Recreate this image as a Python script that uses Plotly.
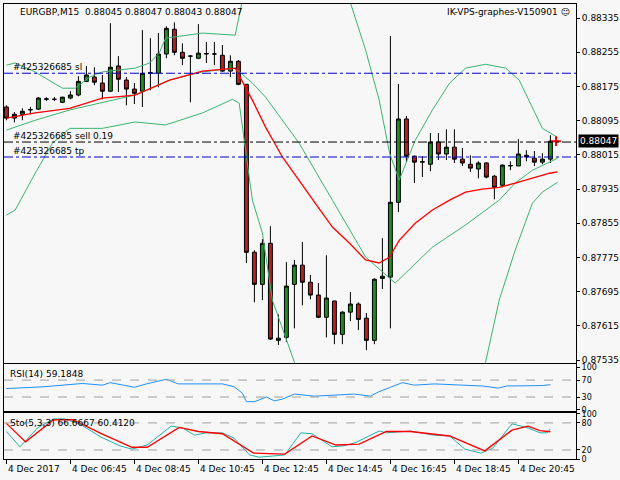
import plotly.graph_objects as go
from plotly.subplots import make_subplots

S = 1e5  # prices stored in 1e-5 units
opens  = [88127,88101,88110,88120,88122,88145,88145,88138,88148,88155,88187,88197,88183,88164,88223,88190,88169,88164,88206,88206,88251,88309,88255,88246,88241,88251,88251,88248,88211,88234,
          88180,87787,87712,87808,87581,87588,87712,87757,87717,87687,87635,87673,87595,87647,87666,87633,87581,87726,87729,87904,88099,88012,87998,87993,88045,88017,88033,88005,87993,87982,
          87996,87965,87944,87989,87989,88014,88007,87998,88005]
highs  = [88131,88115,88124,88127,88150,88150,88150,88151,88164,88199,88223,88220,88202,88323,88246,88197,88183,88307,88288,88300,88316,88325,88276,88248,88321,88279,88279,88272,88248,88237,
          88181,87792,87818,87848,87642,87764,87769,87811,87734,87715,87780,87674,87649,87694,87670,87645,87726,87820,88293,88181,88106,88013,88012,88066,88066,88075,88075,88031,88014,88000,
          87998,87968,87993,88000,88052,88026,88024,88019,88061]
lows   = [88096,88091,88096,88110,88120,88141,88141,88136,88145,88152,88185,88178,88145,88162,88162,88131,88134,88127,88166,88173,88241,88248,88225,88138,88239,88230,88225,88209,88197,88178,
          87762,87670,87675,87582,87570,87577,87609,87663,87677,87633,87588,87572,87572,87626,87605,87558,87572,87701,87609,87881,87998,87949,87963,87977,88003,88003,87996,87989,87975,87960,
          87960,87911,87939,87979,87989,88000,87989,87993,87996]
closes = [88101,88110,88117,88121,88148,88146,88145,88150,88155,88187,88202,88185,88164,88220,88192,88169,88159,88206,88207,88251,88311,88255,88241,88246,88253,88252,88251,88211,88234,88180,
          87787,87712,87808,87584,87586,87708,87757,87717,87687,87635,87680,87595,87647,87666,87630,87581,87724,87731,87904,88099,88012,87998,87999,88045,88017,88033,88005,87996,87984,87996,
          87963,87939,87991,87990,88017,88010,87998,88005,88047]

ma_x = [0,3.6,7.9,12,16.1,20.4,24.5,28.6,30.75,32.4,34.5,36.6,38.6,40.75,42.9,44.9,46.6,47.9,49.1,51.1,53.25,55.4,57.4,59.5,61.6,63.6,65.75,67.9,68.9]
ma_y = [88101,88113,88124,88148,88155,88190,88211,88218,88143,88080,88010,87956,87902,87846,87808,87769,87762,87776,87815,87855,87886,87909,87928,87935,87939,87949,87960,87972,87975]

bbm_x = [0,3.6,7.9,12,16.1,20.4,24.5,28.6,30.75,32.4,36.6,40.75,44.9,48.6,53.25,57.4,61.6,63.6,65.75,68.9]
bbm_y = [88073,88096,88120,88138,88155,88190,88209,88218,88183,88150,88042,87909,87776,87715,87799,87851,87909,87949,87979,88007]

bbu_x = [0,1.1,3.6,7,8.6,10.4,12,16.1,17.9,19.1,19.9,22.4,24.5,28.6,29.5,35.75,42.9,44.9,46.6,47.9,49.1,51.1,53.25,55.4,57.4,59.9,62.4,64.1,65.75,67,68.9]
bbu_y = [88225,88230,88209,88171,88171,88197,88209,88218,88230,88253,88288,88295,88300,88295,88377,88564,88377,88260,88143,88019,87956,88049,88120,88183,88218,88227,88218,88190,88127,88077,88056]

bbl_x = [0,1.1,3.6,5.75,7.9,12,16.1,19.9,24.5,28.25,29.1,29.9,30.75,32,33.25,36,42,52,59.9,61.6,63.6,65.75,67,68.9]
bbl_y = [87874,87886,87972,88042,88077,88077,88092,88085,88113,88145,88136,88026,87909,87832,87675,87530,87347,87324,87530,87675,87792,87902,87928,87951]

rsi_x = [0,4.5,9.5,12,13,16,17.5,20,21.5,27,28.5,29.5,30,31,32.5,33.5,34.5,36,38.5,43.5,45.5,46.5,48,49.5,51,53.5,59.5,61.5,62.5,67,68]
rsi_y = [50,54,62,58,64,53,61,72,61,61,54,39,19,19,30,21,25,37,32,37,32,42,53,64,58,61,56,51,56,57,59.18]

stk_x = [0,1.7,3.9,5.9,7.3,9.3,11.8,14.2,15.7,17.6,20.6,22,23.5,25,27,28.4,30.4,31.6,34.8,36.8,38.2,40.7,42.1,43.6,46.6,47.5,50.5,53.4,55.4,57.3,59.3,60.8,63.2,65.2,66.7,67.6,68]
stk_y = [61,27,69,89,89,76,49,29,22,31,73,69,53,58,58,47,9,4,9,58,56,27,29,36,62,58,62,53,51,22,13,24,78,69,58,58,66.67]
std_x = [0,2.4,5.9,8.3,11.8,15.7,17.6,21.6,24,27,30.9,34.8,38.2,41.2,44.1,47.5,50.5,55.4,59.8,63.2,65.2,66.7,68]
std_y = [79,38,87,87,57,26,26,70,61,56,13,11,51,31,33,61,61,51,18,64,73,63,60.41]

price_ticks = [0.88335,0.88255,0.88175,0.88095,0.88015,0.87935,0.87855,0.87775,0.87695,0.87615,0.87535]
time_idx = [0,8,16,24,32,40,48,56,64]
time_lbl = ["4 Dec 2017","4 Dec 06:45","4 Dec 08:45","4 Dec 10:45","4 Dec 12:45","4 Dec 14:45","4 Dec 16:45","4 Dec 18:45","4 Dec 20:45"]
levels = [("#425326685 sl", 0.88206, "#0000CD"), ("#425326685 sell 0.19", 0.88045, "#000000"), ("#425326685 tp", 0.88010, "#0000CD")]
last_price = 0.88047

idx = list(range(len(opens)))
sc = lambda a: [v / S for v in a]

fig = make_subplots(rows=3, cols=1, shared_xaxes=True)
fig.add_trace(go.Candlestick(x=idx, open=sc(opens), high=sc(highs), low=sc(lows), close=sc(closes),
    increasing=dict(line=dict(color="black", width=1), fillcolor="#1E8C1E"),
    decreasing=dict(line=dict(color="black", width=1), fillcolor="#B22222"),
    whiskerwidth=0, showlegend=False, hoverinfo="skip"), row=1, col=1)
green = "#3CB371"
for xs, ys in [(bbu_x, bbu_y), (bbm_x, bbm_y), (bbl_x, bbl_y)]:
    fig.add_trace(go.Scatter(x=xs, y=sc(ys), mode="lines", line=dict(color=green, width=1), showlegend=False), row=1, col=1)
fig.add_trace(go.Scatter(x=ma_x, y=sc(ma_y), mode="lines", line=dict(color="red", width=1.3), showlegend=False), row=1, col=1)
fig.add_trace(go.Scatter(x=[68.7], y=[last_price], mode="markers", marker=dict(symbol="cross-thin", color="red", size=7, line=dict(color="red", width=2)), showlegend=False), row=1, col=1)

fig.add_trace(go.Scatter(x=rsi_x, y=rsi_y, mode="lines", line=dict(color="#1E90FF", width=1), showlegend=False), row=2, col=1)
fig.add_trace(go.Scatter(x=stk_x, y=stk_y, mode="lines", line=dict(color="#20B2AA", width=1), showlegend=False), row=3, col=1)
fig.add_trace(go.Scatter(x=std_x, y=std_y, mode="lines", line=dict(color="red", width=1.3), showlegend=False), row=3, col=1)

for name, lv, col in levels:
    fig.add_hline(y=lv, line=dict(color=col, width=1, dash="dashdot"), row=1, col=1)
    fig.add_annotation(x=0.6, y=lv, xref="x", yref="y", text=name, showarrow=False, xanchor="left", yanchor="bottom",
                       font=dict(size=9, color="black"), yshift=-1)
for v, r in [(70, 2), (30, 2), (80, 3), (20, 3)]:
    fig.add_hline(y=v, line=dict(color="#A0A0A0", width=1, dash="dash"), row=r, col=1)

font = dict(family="DejaVu Sans", size=9, color="black")
xr = [-0.3, 71.2]
axis_common = dict(showline=True, linecolor="black", linewidth=1, mirror=True, showgrid=False, zeroline=False)
fig.update_layout(width=620, height=480, margin=dict(l=0, r=0, t=0, b=0, autoexpand=False), paper_bgcolor="#F7F7F7",
                  plot_bgcolor="#F7F7F7", font=font, showlegend=False,
                  xaxis=dict(domain=[4/620, 576/620], range=xr, rangeslider=dict(visible=False), showticklabels=False, **axis_common),
                  xaxis2=dict(domain=[4/620, 576/620], range=xr, showticklabels=False, **axis_common),
                  xaxis3=dict(domain=[4/620, 576/620], range=xr, tickvals=time_idx, ticktext=[""] * len(time_idx), ticks="outside",
                              ticklen=4, tickcolor="black", **axis_common),
                  yaxis=dict(domain=[1-363/480, 1-4/480], range=[0.87528, 0.88368], side="right", tickvals=price_ticks,
                             ticktext=[f"{t:.5f}" for t in price_ticks], ticks="outside", ticklen=3, tickcolor="black", **axis_common),
                  yaxis2=dict(domain=[1-411/480, 1-364/480], range=[-3, 108], side="right", tickvals=[100, 70, 30, 0],
                              ticks="outside", ticklen=3, tickcolor="black", tickfont=dict(size=8), **axis_common),
                  yaxis3=dict(domain=[1-459/480, 1-413/480], range=[0, 102], side="right", tickvals=[100, 80, 20, 0],
                              ticks="outside", ticklen=3, tickcolor="black", tickfont=dict(size=8), **axis_common))

for ti, tl in zip(time_idx, time_lbl):
    fig.add_annotation(x=ti, xref="x3", yref="paper", y=1-462/480, text=tl, showarrow=False, xanchor="left",
                       yanchor="top", font=dict(size=9))

fig.add_annotation(xref="paper", yref="paper", x=18/620, y=1-12/480, text="EURGBP,M15  0.88045 0.88047 0.88043 0.88047",
                   showarrow=False, xanchor="left", yanchor="middle", font=dict(size=9))
fig.add_annotation(xref="paper", yref="paper", x=572/620, y=1-12/480, text="IK-VPS-graphes-V150901 ☺",
                   showarrow=False, xanchor="right", yanchor="middle", font=dict(size=9))
fig.add_annotation(xref="paper", yref="y", x=578/620, y=last_price, text="0.88047", showarrow=False, xanchor="left",
                   bgcolor="black", font=dict(size=9, color="white"), borderpad=1)
fig.add_annotation(xref="paper", yref="paper", x=8/620, y=1-374/480, text="RSI(14) 59.1848", showarrow=False,
                   xanchor="left", yanchor="middle", font=dict(size=9))
fig.add_annotation(xref="paper", yref="paper", x=8/620, y=1-423/480, text="Sto(5,3,3) 66.6667 60.4120", showarrow=False,
                   xanchor="left", yanchor="middle", font=dict(size=9))

fig.write_html("out.html", config={"displayModeBar": False},
               post_script="document.body.style.margin='0';document.body.style.background='#F7F7F7';")
